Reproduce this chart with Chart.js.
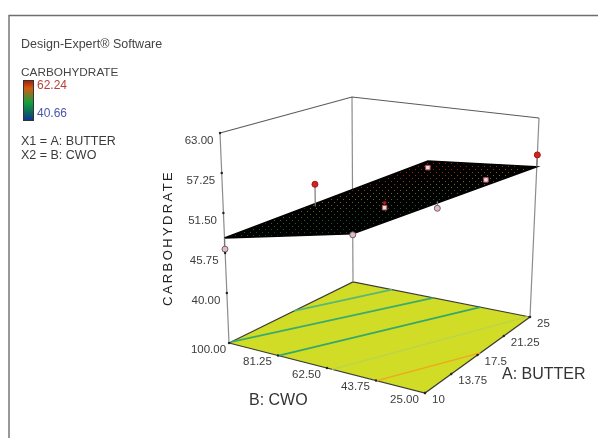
<!DOCTYPE html>
<html>
<head>
<meta charset="utf-8">
<title>Carbohydrate response surface</title>
<script src="https://cdn.jsdelivr.net/npm/chart.js@4/dist/chart.umd.min.js"></script>
<style>
    html, body { margin: 0; padding: 0; background: #fff; }
    #wrap { width: 598px; height: 438px; }
    canvas { display: block; filter: blur(0.4px); }
</style>
</head>
<body>
<div id="wrap"><canvas id="surfaceChart" width="598" height="438"></canvas></div>
<script>
// Axis ticks
const butterTicks = [10, 13.75, 17.5, 21.25, 25];
const butterLabels = ['10', '13.75', '17.5', '21.25', '25'];
const cwoTicks = [100, 81.25, 62.5, 43.75, 25];
const cwoLabels = ['100.00', '81.25', '62.50', '43.75', '25.00'];
const carbTicks = [63, 57.25, 51.5, 45.75, 40];
const carbLabels = ['63.00', '57.25', '51.50', '45.75', '40.00'];
const carbFloor = 32.8;

// Fitted surface at its four corners: butter, cwo, carbohydrate
const surfaceButter = [10, 10, 25, 25];
const surfaceCwo = [100, 25, 25, 100];
const surfaceCarb = [47.9, 62.24, 55.6, 40.66];

// Design points: actual value and the fitted value under or over it
const designButter = [10, 25, 25, 10, 10, 17.5, 25, 18, 17.5];
const designCwo = [100, 100, 25, 25, 66, 62.5, 65, 25, 62.5];
const designCarb = [46.3, 40.5, 57.4, 61.4, 57.4, 51.1, 47, 56.8, 51.8];
const designFit = [47.9, 40.66, 55.6, 62.24, 54.4, 51.1, 48.1, 56.8, 51.8];
const designKind = ['below', 'below', 'above', 'hidden', 'above', 'hidden', 'below', 'hidden', 'buried'];

// Floor contours, each one from butter/cwo to butter/cwo
const contourButterFrom = [17.9, 10.3, 10, 10, 10];
const contourCwoFrom = [100, 100, 81, 60.6, 43.4];
const contourButterTo = [25, 25, 25, 25, 17.9];
const contourCwoTo = [83.5, 66, 46, 26, 25];
const contourColors = ['#58b878', '#3aac6e', '#35a86c', '#b8d450', '#eea81c'];

// Picture of the box: corners at the floor and at carbohydrate 63
const floorBox = { a: [229, 343], b: [425, 393], c: [530, 317], d: [353, 282] };
const topBox = { a: [220, 133], b: [428, 155], c: [539, 118], d: [352, 97] };

function mix(p, q, t) { return [p[0] + (q[0] - p[0]) * t, p[1] + (q[1] - p[1]) * t]; }

function corners(box, u, v) {
    return mix(mix(box.a, box.b, v), mix(box.d, box.c, v), u);
}

function project(butter, cwo, carb) {
    const u = (butter - 10) / 15;
    const v = (100 - cwo) / 75;
    const w = (carb - carbFloor) / (63 - carbFloor);
    const p = mix(corners(floorBox, u, v), corners(topBox, u, v), w);
    return { x: p[0], y: p[1] };
}

const canvas = document.getElementById('surfaceChart');
const ctx = canvas.getContext('2d');

// Surface tint runs across the plane, low edge to high corner
const surfaceTint = ctx.createLinearGradient(352, 233, 343, 177);
surfaceTint.addColorStop(0, '#0a4a40');
surfaceTint.addColorStop(0.28, '#12601e');
surfaceTint.addColorStop(0.58, '#7a7010');
surfaceTint.addColorStop(0.8, '#8a3408');
surfaceTint.addColorStop(1, '#b01010');

// Black mesh over the tint, with the colour showing through as dots
function meshPattern() {
    const tile = document.createElement('canvas');
    tile.width = 6;
    tile.height = 6;
    const t = tile.getContext('2d');
    t.fillStyle = '#000';
    t.fillRect(0, 0, 6, 6);
    t.clearRect(1, 1, 1, 1);
    t.clearRect(4, 4, 1, 1);
    return ctx.createPattern(tile, 'repeat');
}

const datasets = [];

function addLine(points, color, width, extra) {
    datasets.push(Object.assign({
        data: points,
        showLine: true,
        borderColor: color,
        borderWidth: width,
        pointRadius: 0,
        fill: false,
        order: datasets.length
    }, extra || {}));
}

function addMarkers(kind, style, radius, fill, edge) {
    const points = designKind
        .map((k, i) => k === kind ? project(designButter[i], designCwo[i], designCarb[i]) : null)
        .filter(p => p);
    datasets.push({
        data: points,
        showLine: false,
        pointStyle: style,
        pointRadius: radius,
        pointBackgroundColor: fill,
        pointBorderColor: edge,
        pointBorderWidth: 1,
        order: datasets.length
    });
}

// Dataset order runs from the top layer down
addMarkers('hidden', 'rect', 3.2, '#f2d8dc', '#a8505a');
addMarkers('buried', 'circle', 1.4, '#c81c1c', '#a01818');
addMarkers('above', 'circle', 3, '#d8201f', '#a01818');
addMarkers('below', 'circle', 3, '#e6b8c8', '#6a6468');

designKind.forEach((k, i) => {
    if (k === 'hidden' || k === 'buried') return;
    addLine([
        project(designButter[i], designCwo[i], designCarb[i]),
        project(designButter[i], designCwo[i], designFit[i])
    ], '#777', 1.2);
});

const surfacePoints = surfaceCarb.map((z, i) => project(surfaceButter[i], surfaceCwo[i], z));
surfacePoints.push(surfacePoints[0]);
addLine(surfacePoints, '#000', 1.5, { fill: 'shape', backgroundColor: meshPattern() });
addLine(surfacePoints, 'rgba(0,0,0,0)', 0, { fill: 'shape', backgroundColor: surfaceTint });

// Box edges that the surface hides
addLine([project(10, 100, 63), project(25, 100, 63), project(25, 25, 63)], '#5a5a5a', 1.2);
addLine([project(25, 100, 63), project(25, 100, carbFloor)], '#8c8c8c', 1.2);
addLine([project(25, 25, 63), project(25, 25, carbFloor)], '#8c8c8c', 1.2);
addLine([project(10, 100, 63), project(10, 100, carbFloor)], '#8c8c8c', 1.2);

// Tick marks on the three axes
datasets.push({
    data: carbTicks.map(z => project(10, 100, z))
        .concat(cwoTicks.map(b => project(10, b, carbFloor)))
        .concat(butterTicks.map(a => project(a, 25, carbFloor))),
    showLine: false,
    pointRadius: 1.2,
    pointBackgroundColor: '#222',
    pointBorderWidth: 0,
    order: -1
});

contourColors.forEach((color, i) => {
    addLine([
        project(contourButterFrom[i], contourCwoFrom[i], carbFloor),
        project(contourButterTo[i], contourCwoTo[i], carbFloor)
    ], color, i < 3 ? 1.8 : 1.3);
});

const floorPoints = [[10, 100], [10, 25], [25, 25], [25, 100], [10, 100]]
    .map(p => project(p[0], p[1], carbFloor));
addLine(floorPoints, '#3c3c34', 1.2, { fill: 'shape', backgroundColor: '#d0dc26' });

// Text and legend that sit outside the datasets
const annotations = {
    id: 'annotations',
    afterDatasetsDraw(chart) {
        const c = chart.ctx;
        const sx = v => chart.scales.x.getPixelForValue(v);
        const sy = v => chart.scales.y.getPixelForValue(v);
        const text = (str, x, y, font, color, align) => {
            c.font = font;
            c.fillStyle = color;
            c.textAlign = align || 'left';
            c.textBaseline = 'middle';
            c.fillText(str, x, y);
        };

        c.save();
        c.strokeStyle = '#6e6e6e';
        c.lineWidth = 1.4;
        c.beginPath();
        c.moveTo(9, 438);
        c.lineTo(9, 15.5);
        c.lineTo(598, 15.5);
        c.stroke();

        const tickFont = '11.5px "Liberation Sans"';
        carbTicks.forEach((z, i) => {
            const p = project(10, 100, z);
            text(carbLabels[i], sx(p.x) - 6.5, sy(p.y) + 7.5, tickFont, '#3c3c3c', 'right');
        });
        cwoTicks.forEach((b, i) => {
            const p = project(10, b, carbFloor);
            text(cwoLabels[i], sx(p.x) - 20.5, sy(p.y) + 6.5, tickFont, '#3c3c3c', 'center');
        });
        butterTicks.forEach((a, i) => {
            const p = project(a, 25, carbFloor);
            text(butterLabels[i], sx(p.x) + 7, sy(p.y) + 7, tickFont, '#3c3c3c');
        });

        const labelFont = '16px "Liberation Sans"';
        text('B: CWO', 249, 401, labelFont, '#333');
        text('A: BUTTER', 502, 375, labelFont, '#333');

        c.save();
        c.translate(168.5, 238);
        c.rotate(-Math.PI / 2);
        c.letterSpacing = '2.4px';
        text('CARBOHYDRATE', 0, 0, '13px "Liberation Sans"', '#222', 'center');
        c.restore();

        text('Design-Expert® Software', 21, 44.5, '12.5px "Liberation Sans"', '#444');
        text('CARBOHYDRATE', 21, 72.5, '11.8px "Liberation Sans"', '#444');
        text('62.24', 37, 86, '12px "Liberation Sans"', '#b5403c');
        text('40.66', 37, 114, '12px "Liberation Sans"', '#4c55a8');
        text('X1 = A: BUTTER', 21, 141.5, '12.5px "Liberation Sans"', '#3a3a3a');
        text('X2 = B: CWO', 21, 155.5, '12.5px "Liberation Sans"', '#3a3a3a');

        const bar = c.createLinearGradient(0, 80, 0, 121);
        bar.addColorStop(0, '#9c1c10');
        bar.addColorStop(0.2, '#d45a10');
        bar.addColorStop(0.55, '#14a040');
        bar.addColorStop(0.78, '#0e6a58');
        bar.addColorStop(1, '#10309c');
        c.fillStyle = bar;
        c.fillRect(23.5, 80.5, 10, 40);
        c.strokeStyle = '#333';
        c.lineWidth = 1;
        c.strokeRect(23.5, 80.5, 10, 40);
        c.restore();
    }
};

new Chart(ctx, {
    type: 'scatter',
    data: { datasets: datasets },
    plugins: [annotations],
    options: {
        responsive: false,
        animation: false,
        layout: { padding: 0, autoPadding: false },
        plugins: { legend: { display: false }, tooltip: { enabled: false } },
        scales: {
            x: { type: 'linear', min: 0, max: 598, display: false },
            y: { type: 'linear', min: 0, max: 438, reverse: true, display: false }
        }
    }
});
</script>
</body>
</html>
